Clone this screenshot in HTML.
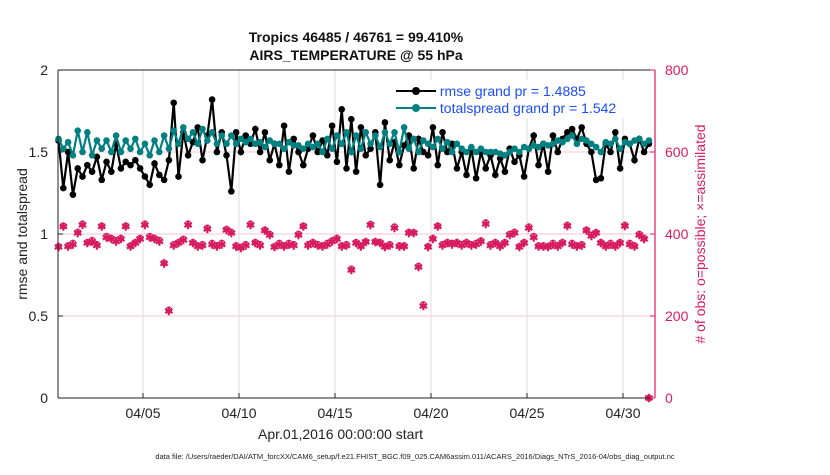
<!DOCTYPE html>
<html><head><meta charset="utf-8"><style>
body{margin:0;background:#fff;width:830px;height:470px;overflow:hidden;font-family:"Liberation Sans",sans-serif}
</style></head><body>
<svg id="c" width="830" height="470" font-family="Liberation Sans, sans-serif"></svg>
<script>
const xTickLabels=['04/05','04/10','04/15','04/20','04/25','04/30'];
const xTickDays=[5,10,15,20,25,30];
const yLeftTicks=[0,0.5,1,1.5,2];
const yLeftTickLabels=['0','0.5','1','1.5','2'];
const yRightTicks=[0,200,400,600,800];
const rmse=[1.57,1.28,1.50,1.24,1.40,1.35,1.42,1.38,1.47,1.33,1.44,1.38,
1.55,1.40,1.44,1.42,1.45,1.40,1.35,1.30,1.43,1.36,1.33,1.45,
1.80,1.35,1.62,1.48,1.56,1.65,1.45,1.60,1.82,1.50,1.62,1.48,
1.26,1.62,1.50,1.60,1.55,1.64,1.50,1.62,1.45,1.55,1.42,1.66,
1.38,1.58,1.50,1.42,1.52,1.60,1.50,1.57,1.48,1.66,1.44,1.76,
1.40,1.70,1.38,1.65,1.48,1.52,1.62,1.30,1.68,1.45,1.56,1.42,
1.54,1.60,1.40,1.58,1.50,1.48,1.65,1.42,1.62,1.50,1.55,1.40,
1.50,1.36,1.52,1.34,1.50,1.40,1.48,1.36,1.46,1.38,1.52,1.44,
1.48,1.35,1.52,1.60,1.42,1.55,1.38,1.60,1.50,1.58,1.62,1.64,
1.58,1.65,1.55,1.50,1.33,1.34,1.55,1.50,1.62,1.40,1.58,1.55,
1.45,1.58,1.50,1.55];
const spread=[1.58,1.52,1.56,1.48,1.63,1.50,1.62,1.48,1.57,1.52,1.57,1.50,
1.60,1.50,1.57,1.52,1.58,1.50,1.55,1.48,1.57,1.50,1.60,1.52,
1.63,1.55,1.65,1.58,1.62,1.55,1.64,1.57,1.62,1.55,1.60,1.55,
1.60,1.55,1.58,1.56,1.58,1.55,1.56,1.53,1.57,1.55,1.55,1.52,
1.56,1.54,1.54,1.52,1.55,1.53,1.55,1.50,1.58,1.52,1.60,1.55,
1.62,1.50,1.60,1.52,1.62,1.55,1.60,1.53,1.62,1.55,1.62,1.50,
1.65,1.52,1.58,1.50,1.57,1.55,1.53,1.58,1.52,1.56,1.50,1.55,
1.52,1.50,1.53,1.50,1.52,1.50,1.50,1.50,1.49,1.48,1.50,1.52,
1.50,1.53,1.52,1.54,1.53,1.55,1.54,1.55,1.57,1.56,1.58,1.60,
1.55,1.58,1.57,1.55,1.53,1.50,1.56,1.55,1.58,1.52,1.56,1.55,
1.57,1.58,1.55,1.57];
const obsPossible=[370,420,372,378,405,425,380,385,375,420,395,390,
385,390,420,372,380,390,425,395,390,385,330,215,
375,380,388,425,380,372,375,415,378,372,378,412,
405,372,368,375,425,380,375,410,400,370,378,372,
378,375,400,420,375,380,375,372,378,384,390,372,
375,315,380,372,382,424,382,380,370,375,418,372,
372,405,404,322,228,370,390,420,375,380,378,380,
375,380,375,378,384,428,375,380,372,380,400,405,
370,380,418,395,372,372,370,378,372,380,422,378,
372,375,410,398,404,380,372,378,372,380,422,378,
372,400,390,0];
const obsAssim=[368,418,370,375,402,422,378,382,372,418,392,388,
382,388,418,370,378,388,422,392,388,382,328,212,
372,378,385,422,378,370,372,412,375,370,375,410,
402,370,366,372,422,378,372,408,398,368,375,370,
375,372,398,418,372,378,372,370,375,382,388,370,
372,312,378,370,380,422,380,378,368,372,415,370,
370,402,402,320,225,368,388,418,372,378,375,378,
372,378,372,375,382,425,372,378,370,378,398,402,
368,378,415,392,370,370,368,375,370,378,420,375,
370,372,408,395,402,378,370,375,370,378,420,375,
370,398,388,0];

const NS='http://www.w3.org/2000/svg';
const svg=document.getElementById('c');
const L=58,R=655,T=70,B=398;
const xs=d=>143+(d-5)*19.2;
const yl=v=>B-(v/2)*(B-T);
const yr=v=>B-(v/800)*(B-T);
const dayOf=i=>0.6+0.25*i;
function mk(tag,attrs,txt){const e=document.createElementNS(NS,tag);for(const k in attrs)e.setAttribute(k,attrs[k]);if(txt!==undefined)e.textContent=txt;svg.appendChild(e);return e;}
const crim='#d81b60';
xTickDays.forEach(d=>{const g=mk('line',{x1:xs(d),x2:xs(d),y1:T,y2:B,stroke:'#dcdcdc','stroke-width':1});

});
yRightTicks.forEach(v=>{const g=mk('line',{x1:L,x2:R,y1:yr(v),y2:yr(v),stroke:'#f7c6d6','stroke-width':1});

});
obsPossible.forEach((v,i)=>{const c=mk('circle',{cx:xs(dayOf(i)),cy:yr(v),r:2.8,fill:'none',stroke:crim,'stroke-width':1.1});

});
obsAssim.forEach((v,i)=>{const t=mk('text',{x:xs(dayOf(i)),y:yr(v)+4,'font-size':11,'font-weight':'bold',fill:crim,'text-anchor':'middle'},'✱');

});
function series(arr,color,name){
 const p=mk('polyline',{points:arr.map((v,i)=>xs(dayOf(i))+','+yl(v)).join(' '),fill:'none',stroke:color,'stroke-width':2.2});
 
 
 arr.forEach((v,i)=>{const c=mk('circle',{cx:xs(dayOf(i)),cy:yl(v),r:3.3,fill:color});
 
 });
}
series(rmse,'#000','rmse');
series(spread,'#008080','totalspread');
let a=mk('line',{x1:L,x2:L,y1:T,y2:B,stroke:'#222','stroke-width':1});

a=mk('line',{x1:L,x2:R,y1:T,y2:T,stroke:'#222','stroke-width':1});

a=mk('line',{x1:R,x2:R,y1:T,y2:B,stroke:crim,'stroke-width':1.2});

a=mk('line',{x1:L,x2:R,y1:B,y2:B,stroke:'#222','stroke-width':1});

xTickDays.forEach((d,i)=>{mk('line',{x1:xs(d),x2:xs(d),y1:B,y2:B-5,stroke:'#222'});
const t=mk('text',{x:xs(d),y:B+20,'font-size':14,fill:'#222','text-anchor':'middle'},xTickLabels[i]);
});
yLeftTicks.forEach((v,i)=>{mk('line',{x1:L,x2:L+5,y1:yl(v),y2:yl(v),stroke:'#222'});
const t=mk('text',{x:L-10,y:yl(v)+5,'font-size':14,fill:'#222','text-anchor':'end'},yLeftTickLabels[i]);
});
yRightTicks.forEach(v=>{mk('line',{x1:R,x2:R-5,y1:yr(v),y2:yr(v),stroke:crim});
const t=mk('text',{x:R+10,y:yr(v)+5,'font-size':14,fill:crim},String(v));
});
</script>
<div style="position:absolute;left:0;top:0;width:830px;height:470px;pointer-events:none">
<div style="position:absolute;left:0;width:712px;top:28px;text-align:center;font-weight:bold;font-size:14px;line-height:18px;color:#111">Tropics 46485 / 46761 = 99.410%<br>AIRS_TEMPERATURE @ 55 hPa</div>
<div style="position:absolute;left:258px;top:426px;font-size:14px;color:#222">Apr.01,2016 00:00:00 start</div>
<div style="position:absolute;left:22px;top:234px;transform:translate(-50%,-50%) rotate(-90deg);font-size:14px;white-space:nowrap;color:#222">rmse and totalspread</div>
<div style="position:absolute;left:700px;top:234px;transform:translate(-50%,-50%) rotate(-90deg);font-size:14px;white-space:nowrap;color:#d81b60"># of obs: o=possible; ×=assimilated</div>
<div style="position:absolute;left:0;width:830px;top:452px;text-align:center;font-size:7.5px;color:#222">data file: /Users/raeder/DAI/ATM_forcXX/CAM6_setup/f.e21.FHIST_BGC.f09_025.CAM6assim.011/ACARS_2016/Diags_NTrS_2016-04/obs_diag_output.nc</div>
<div style="position:absolute;left:396px;top:80px;width:250px;height:38px;background:#fff;font-size:14px;color:#1a4dff">
<div style="position:absolute;left:0;top:3px;white-space:nowrap"><span style="display:inline-block;width:40px;position:relative;top:-4px;border-top:2px solid #000"><span style="position:absolute;left:16px;top:-5px;width:8px;height:8px;border-radius:50%;background:#000"></span></span> rmse grand pr = 1.4885</div>
<div style="position:absolute;left:0;top:20px;white-space:nowrap"><span style="display:inline-block;width:40px;position:relative;top:-4px;border-top:2px solid #008080"><span style="position:absolute;left:16px;top:-5px;width:8px;height:8px;border-radius:50%;background:#008080"></span></span> totalspread grand pr = 1.542</div>
</div>
</div>
</body></html>
